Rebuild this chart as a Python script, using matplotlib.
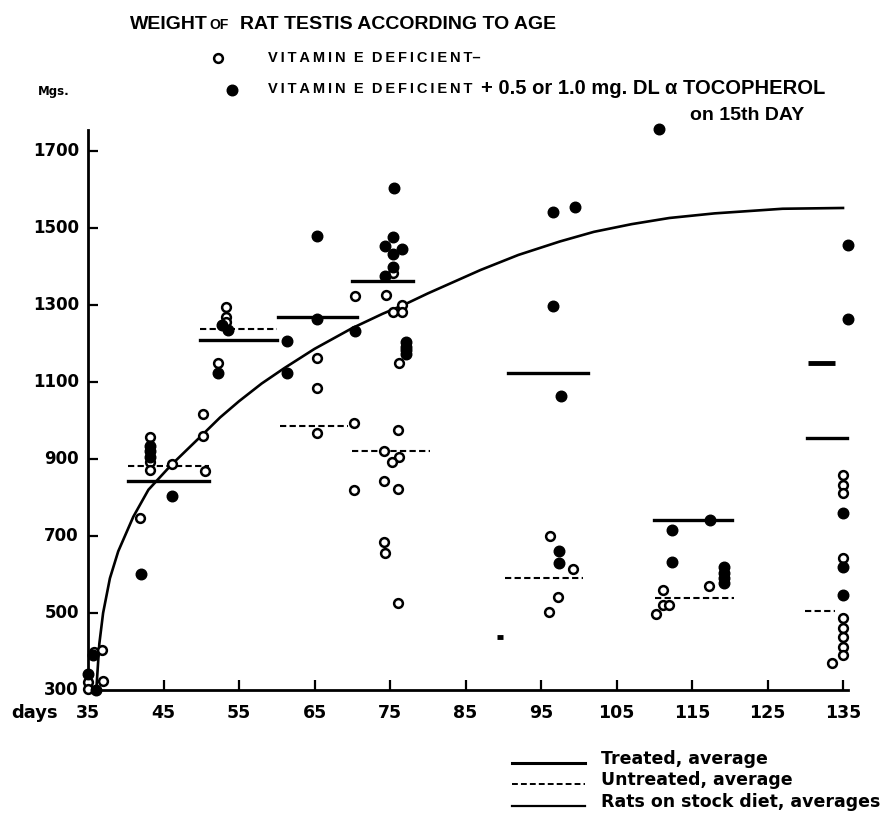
import matplotlib
matplotlib.use("Agg")
import matplotlib.pyplot as plt
from matplotlib.lines import Line2D

plt.rcParams['font.family'] = ['DejaVu Sans']
plt.rcParams['font.weight'] = 'bold'
NARROW = ['Liberation Sans', 'DejaVu Sans']

# ---------------- data ----------------
# Vitamin E deficient (open circles)
open_days = [35.0, 35.0, 35.8, 36.9, 37.0,
             43.2, 43.2, 43.2, 46.1, 50.2, 50.2, 50.5, 41.9,
             53.3, 53.3, 53.3, 52.2,
             65.3, 65.3, 65.3,
             70.4, 70.2, 70.2,
             75.4, 74.5, 76.6, 75.4, 76.6, 76.2, 76.1, 74.2, 76.2, 75.2, 74.2, 76.1, 74.2, 74.3, 76.1,
             96.2, 99.2, 97.3, 96.1,
             117.3, 111.2, 111.2, 111.9, 110.2,
             135.0, 135.0, 135.0, 135.0, 135.0, 135.0, 135.0, 135.0, 135.0, 133.5]
open_mg = [322, 302, 400, 404, 323,
           956, 893, 872, 886, 1016, 959, 870, 748,
           1295, 1269, 1256, 1150,
           1162, 1084, 967,
           1323, 993, 819,
           1383, 1326, 1300, 1281, 1281, 1149, 975, 922, 906, 893, 844, 823, 685, 657, 526,
           701, 615, 542, 503,
           570, 560, 521, 521, 498,
           858, 832, 812, 643, 487, 461, 438, 412, 391, 370]

# Vitamin E deficient + tocopherol (filled circles)
filled_days = [35.0, 35.6, 36.1,
               43.2, 43.2, 43.2, 46.1, 42.0,
               52.8, 53.6, 52.2,
               61.4, 61.4, 65.3, 65.3, 70.4,
               75.5, 75.4, 74.3, 76.6, 75.4, 75.4, 74.3, 77.1, 77.1, 77.1, 77.1,
               96.6, 99.5, 96.6, 97.6, 97.4, 97.4,
               110.6, 112.3, 117.4, 112.3, 119.2, 119.2, 119.2, 119.2,
               135.7, 135.7, 135.0, 135.0, 135.0]
filled_mg = [341, 390, 300,
             935, 920, 905, 805, 602,
             1248, 1235, 1123,
             1206, 1123, 1263, 1480, 1232,
             1605, 1477, 1454, 1446, 1433, 1399, 1375, 1203, 1192, 1182, 1172,
             1542, 1555, 1298, 1063, 660, 631,
             1758, 716, 741, 632, 620, 605, 590, 578,
             1455, 1264, 760, 620, 546]

# Treated averages (solid bars)
treated_start = [40.3, 49.8, 60.2, 70.0, 90.6, 110.0, 130.2]
treated_end = [51.0, 60.0, 70.6, 78.0, 101.2, 120.3, 135.5]
treated_mg = [842, 1209, 1268, 1362, 1123, 741, 954]

# Untreated averages (dashed bars)
untreated_start = [40.3, 49.8, 60.4, 70.0, 90.2, 110.1, 130.0]
untreated_end = [51.0, 60.0, 69.4, 80.3, 100.6, 120.5, 134.0]
untreated_mg = [883, 1237, 987, 922, 592, 539, 505]

# Rats on stock diet, averages (curve)
stock_days = [36.1, 36.5, 37.0, 37.9, 39.0, 41.0, 43.0, 46.0, 50.0, 52.5, 55.0, 58.0, 61.0,
              65.0, 70.0, 74.0, 77.0, 80.0, 87.0, 92.0, 97.5, 102.0, 107.0, 112.0, 118.0,
              127.0, 135.0]
stock_mg = [300, 420, 500, 590, 660, 750, 820, 884, 960, 1008, 1050, 1096, 1136,
            1186, 1240, 1277, 1302, 1330, 1391, 1430, 1465, 1490, 1510, 1526, 1538,
            1550, 1552]

# short stock-diet marks
stock_mark_start = [89.2, 130.3]
stock_mark_end = [90.0, 134.0]
stock_mark_mg = [438, 1150]

xticks = [45, 55, 65, 75, 85, 95, 105, 115, 125, 135]
xtick_labels = ['35', '45', '55', '65', '75', '85', '95', '105', '115', '125', '135']
xlabel_days = [35] + xticks
yticks = [500, 700, 900, 1100, 1300, 1500, 1700]
ylabels = ['300', '500', '700', '900', '1100', '1300', '1500', '1700']
ylabel_vals = [300] + yticks

# ---------------- figure ----------------
W, H = 883, 816
fig = plt.figure(figsize=(W / 100, H / 100), dpi=100)
fig.patch.set_facecolor('white')

def fx(px):
    return px / W

def fy(py):
    return 1 - py / H

ax = fig.add_axes([fx(88), fy(690), (848 - 88) / W, (690 - 130) / H])
ax.set_xlim(35, 35 + 760 / 7.55)
ax.set_ylim(300, 300 + 560 * 200 / 77)
ax.set_facecolor('white')
for s in ['top', 'right']:
    ax.spines[s].set_visible(False)
for s in ['left', 'bottom']:
    ax.spines[s].set_linewidth(2.0)
    ax.spines[s].set_color('black')

ax.set_xticks(xticks)
ax.set_yticks(yticks)
ax.tick_params(axis='both', direction='in', length=7, width=1.6, labelleft=False, labelbottom=False)

# tick labels as text
for d, lab in zip(xlabel_days, xtick_labels):
    ax.text(d, -0.025, lab, transform=ax.get_xaxis_transform(), ha='center', va='top',
            fontsize=12.5, fontweight='bold')
ax.text(-0.07, -0.025, 'days', transform=ax.transAxes, ha='center', va='top',
        fontsize=13, fontweight='bold')
for v, lab in zip(ylabel_vals, ylabels):
    ax.text(-0.012, v, lab, transform=ax.get_yaxis_transform(), ha='right', va='center',
            fontsize=12, fontweight='bold')

# stock diet curve
ax.plot(stock_days, stock_mg, color='black', lw=1.9, clip_on=False, zorder=2)
for a, b, v in zip(stock_mark_start, stock_mark_end, stock_mark_mg):
    ax.plot([a, b], [v, v], color='black', lw=3.5, solid_capstyle='butt', clip_on=False)

# averages
for a, b, v in zip(treated_start, treated_end, treated_mg):
    ax.plot([a, b], [v, v], color='black', lw=2.4, clip_on=False, zorder=3)
for a, b, v in zip(untreated_start, untreated_end, untreated_mg):
    ax.plot([a, b], [v, v], color='black', lw=1.5, ls=(0, (3, 1.6)), clip_on=False, zorder=3)

# points
ax.plot(open_days, open_mg, ls='none', marker='o', ms=6.3, mfc='white', mec='black', mew=1.8,
        clip_on=False, zorder=4)
ax.plot(filled_days, filled_mg, ls='none', marker='o', ms=7.6, mfc='black', mec='black',
        clip_on=False, zorder=5)

# ---------------- header texts ----------------
fig.text(fx(130), fy(29), 'WEIGHT', fontsize=14, fontweight='bold', family=NARROW,
         ha='left', va='baseline')
fig.text(fx(209), fy(29), 'OF', fontsize=10, fontweight='bold', family=NARROW,
         ha='left', va='baseline')
fig.text(fx(240), fy(29), 'RAT TESTIS ACCORDING TO AGE', fontsize=14, fontweight='bold',
         family=NARROW, ha='left', va='baseline')

TS = '\u2009'
def spaced(word):
    return TS.join(list(word))

fig.add_artist(Line2D([fx(218)], [fy(58)], marker='o', ms=6.3, mfc='white', mec='black', mew=1.8))
fig.text(fx(268), fy(58), spaced('VITAMIN') + '  E  ' + spaced('DEFICIENT') + '–',
         fontsize=10.5, fontweight='bold', family=NARROW, ha='left', va='center')
fig.add_artist(Line2D([fx(232)], [fy(90)], marker='o', ms=7.6, mfc='black', mec='black'))
fig.text(fx(268), fy(89), spaced('VITAMIN') + '  E  ' + spaced('DEFICIENT'),
         fontsize=10.5, fontweight='bold', family=NARROW, ha='left', va='center')
fig.text(fx(481), fy(89), '+ 0.5 or 1.0 mg. DL α TOCOPHEROL',
         fontsize=14.5, fontweight='bold', family=NARROW, ha='left', va='center')
fig.text(fx(690), fy(115), 'on 15th DAY', fontsize=14, fontweight='bold', family=NARROW,
         ha='left', va='center')
fig.text(fx(38), fy(92), 'Mgs.', fontsize=8.5, fontweight='bold', ha='left', va='center')

# ---------------- bottom legend ----------------
leg_y = [763, 784, 806]
fig.add_artist(Line2D([fx(512), fx(585)], [fy(leg_y[0])] * 2, color='black', lw=2.2))
fig.add_artist(Line2D([fx(512), fx(585)], [fy(leg_y[1])] * 2, color='black', lw=1.4, ls=(0, (3, 1.6))))
fig.add_artist(Line2D([fx(512), fx(585)], [fy(leg_y[2])] * 2, color='black', lw=1.6))
fig.text(fx(601), fy(leg_y[0] - 4), 'Treated, average', fontsize=12.5, fontweight='bold', ha='left', va='center')
fig.text(fx(601), fy(leg_y[1] - 4), 'Untreated, average', fontsize=12.5, fontweight='bold', ha='left', va='center')
fig.text(fx(601), fy(leg_y[2] - 4), 'Rats on stock diet, averages', fontsize=12.5, fontweight='bold',
         ha='left', va='center')

fig.savefig('out.png', dpi=100, facecolor='white')
